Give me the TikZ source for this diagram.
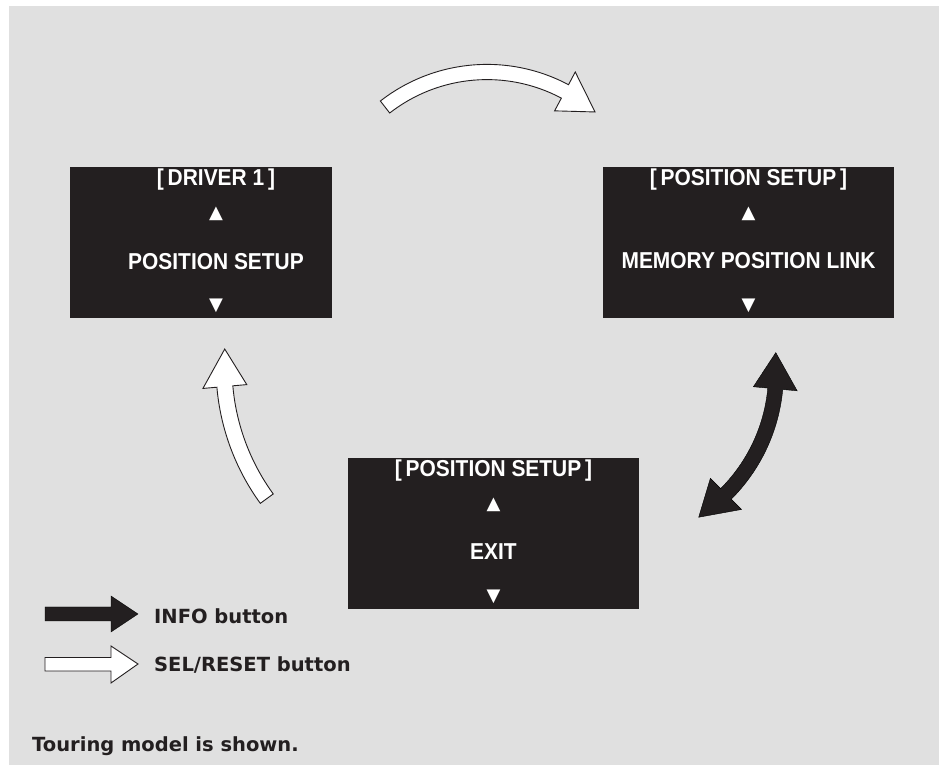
\documentclass[tikz,border=0pt]{standalone}
\usepackage{fontspec}
\usepackage{tikz}
\usetikzlibrary{positioning}
\newfontfamily\lcdfont{Liberation Sans}[FakeStretch=0.91]
\newfontfamily\legendfont{DejaVu Sans}
\definecolor{panelgray}{RGB}{224,224,224}
\definecolor{lcdblack}{RGB}{35,31,32}
% curved block arrow: style, centre, radius, tail angle, head angle, tip angle, half width
\newcommand{\bentarrow}[7]{%
  \draw[#1,shift={(#2)}] ({#4}:{#3+#7}) arc[start angle=#4,end angle=#5,radius=#3+#7]
    -- ({#5}:{#3+22}) -- ({#6}:{#3}) -- ({#5}:{#3-22}) -- ({#5}:{#3-#7})
    arc[start angle=#5,end angle=#4,radius=#3-#7] -- cycle;}

\begin{document}
\begin{tikzpicture}[x=1pt,y=1pt,line join=miter,
  screen/.style={fill=lcdblack,minimum width=291pt,minimum height=151pt,inner sep=0pt},
  lcd/.style={text=white,inner sep=0pt,font=\lcdfont\bfseries\fontsize{23}{23}\selectfont},
  tri/.style={text=white,inner sep=0pt,font=\legendfont\fontsize{18}{18}\selectfont},
  legend/.style={text=lcdblack,anchor=base west,inner sep=0pt,font=\legendfont\bfseries\fontsize{19.5}{21}\selectfont},
  whitearrow/.style={fill=white,draw=lcdblack,line width=0.9pt},
  blackarrow/.style={fill=lcdblack}]
  \useasboundingbox (0,0) rectangle (939,765);
  \fill[panelgray] (9,0) rectangle (939,759);
  % screens
  \node[screen,minimum width=262pt] (driver) at (201,522.5) {};
  \node[lcd] (driver-title) at ([xshift=15pt,yshift=-13pt]driver.north) {[\,DRIVER 1\,]};
  \node[tri] (driver-up) at ([xshift=15pt,yshift=-47pt]driver.north) {▲};
  \node[lcd] (driver-item) at ([xshift=15pt,yshift=-95pt]driver.north) {POSITION SETUP};
  \node[tri] (driver-down) at ([xshift=15pt,yshift=-139pt]driver.north) {▼};
  \node[screen] (memlink) at (748.5,522.5) {};
  \node[lcd] (memlink-title) at ([yshift=-13pt]memlink.north) {[\,POSITION SETUP\,]};
  \node[tri] (memlink-up) at ([yshift=-47pt]memlink.north) {▲};
  \node[lcd] (memlink-item) at ([yshift=-94pt]memlink.north) {MEMORY POSITION LINK};
  \node[tri] (memlink-down) at ([yshift=-139pt]memlink.north) {▼};
  \node[screen] (exitscr) at (493.5,231.5) {};
  \node[lcd] (exitscr-title) at ([yshift=-13pt]exitscr.north) {[\,POSITION SETUP\,]};
  \node[tri] (exitscr-up) at ([yshift=-47pt]exitscr.north) {▲};
  \node[lcd] (exitscr-item) at ([yshift=-94pt]exitscr.north) {EXIT};
  \node[tri] (exitscr-down) at ([yshift=-139pt]exitscr.north) {▼};
  % arrows between the screens
  \coordinate (topc) at (487,527);
  \bentarrow{whitearrow}{topc}{166}{127.9}{62}{49.4}{7.6}
  \coordinate (leftc) at (448,398);
  \bentarrow{whitearrow}{leftc}{224}{216}{185}{175.4}{8}
  \coordinate (rightc) at (605,392);
  \draw[blackarrow,shift={(rightc)}] (-45:178.5) arc[start angle=-45,end angle=-5.3,radius=178.5]
    -- (-5.3:193) -- (6.8:172) -- (-5.3:149) -- (-5.3:163.5)
    arc[start angle=-5.3,end angle=-45,radius=163.5]
    -- (-45:149) -- (-57:172) -- (-45:193) -- cycle;
  % legend
  \draw[blackarrow] (45,144) -- (111,144) -- (111,133) -- (138,151) -- (111,169) -- (111,158) -- (45,158) -- cycle;
  \node[legend] (info) at (154,141.7) {INFO button};
  \draw[whitearrow] (45,94) -- (111,94) -- (111,82) -- (138,101) -- (111,119) -- (111,107.5) -- (45,107.5) -- cycle;
  \node[legend] (selreset) at (154,93.3) {SEL/RESET button};
  \node[legend] (touring) at (32,13.3) {Touring model is shown.};
\end{tikzpicture}
\end{document}
